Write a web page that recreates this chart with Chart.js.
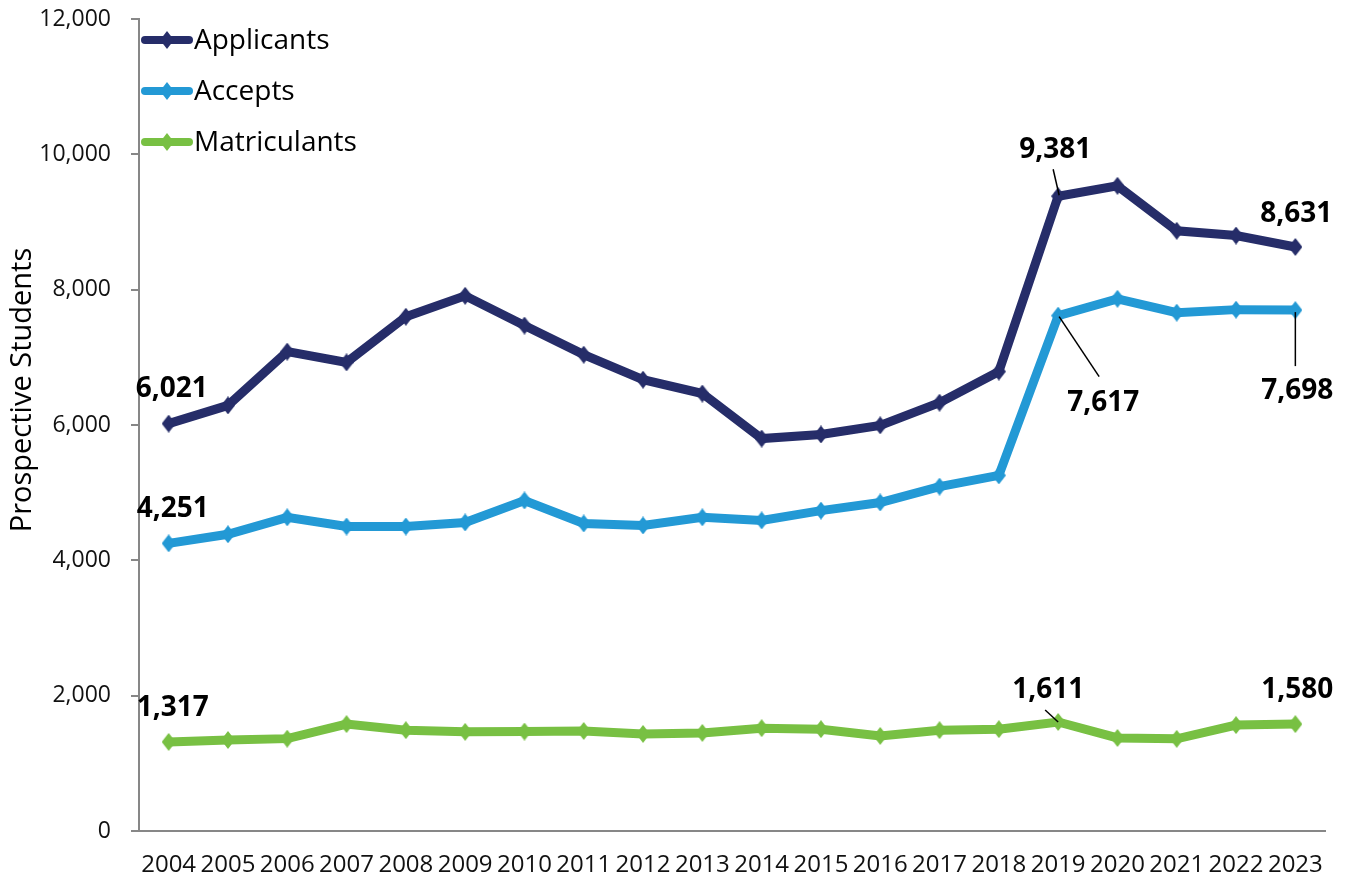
<!DOCTYPE html>
<html>
<head>
<meta charset="utf-8">
<script src="https://cdn.jsdelivr.net/npm/chart.js@4.4.1/dist/chart.umd.min.js"></script>
<style>
  html, body { margin: 0; padding: 0; background: #fff; }
  #wrap { width: 1354px; height: 880px; }
</style>
</head>
<body>
<div id="wrap"><canvas id="chart"></canvas></div>
<script>
// data
var years = ['2004', '2005', '2006', '2007', '2008', '2009', '2010', '2011', '2012', '2013',
             '2014', '2015', '2016', '2017', '2018', '2019', '2020', '2021', '2022', '2023'];
var applicants = [6021, 6290, 7085, 6925, 7600, 7910, 7470, 7040, 6670, 6465,
                  5800, 5860, 5995, 6330, 6790, 9381, 9535, 8870, 8800, 8631];
var accepts = [4251, 4385, 4635, 4500, 4500, 4560, 4885, 4545, 4515, 4635,
               4590, 4735, 4855, 5090, 5255, 7617, 7865, 7660, 7705, 7698];
var matriculants = [1317, 1345, 1365, 1580, 1490, 1465, 1470, 1478, 1435, 1450,
                    1520, 1505, 1405, 1490, 1505, 1611, 1375, 1362, 1565, 1580];
var yTicks = [0, 2000, 4000, 6000, 8000, 10000, 12000];

var seriesNames = ['Applicants', 'Accepts', 'Matriculants'];
var seriesColors = ['#262d69', '#2399d5', '#78c043'];

// which points get a value label: [series, point, dx, dy, leader]
var callouts = [
    [0, 0, 3, -37, null],
    [1, 0, 4, -36, null],
    [2, 0, 4, -36, null],
    [0, 15, -3, -48, [-5, -27, 1, -1]],
    [0, 19, 1, -35, null],
    [1, 15, 45, 85, [1, 1, 41, 61]],
    [1, 19, 2, 79, [0, 2, 0, 56]],
    [2, 15, -10, -34, [-13, -12, 0, 0]],
    [2, 19, 2, -36, null]
];

var FONT = '"Open Sans", "Noto Sans", sans-serif';

// diamond a bit taller than wide, like the Excel marker
function diamond(ctx, x, y, color) {
    ctx.fillStyle = color;
    ctx.beginPath();
    ctx.moveTo(x, y - 9);
    ctx.lineTo(x + 7, y);
    ctx.lineTo(x, y + 9);
    ctx.lineTo(x - 7, y);
    ctx.closePath();
    ctx.fill();
}

function markerImage(color) {
    var c = document.createElement('canvas');
    c.width = 14;
    c.height = 18;
    diamond(c.getContext('2d'), 7, 9, color);
    return c;
}

function makeDataset(i, values) {
    return {
        label: seriesNames[i],
        data: values,
        borderColor: seriesColors[i],
        backgroundColor: seriesColors[i],
        borderWidth: 9,
        pointStyle: markerImage(seriesColors[i]),
        pointRadius: 8,
        pointBorderWidth: 0,
        tension: 0
    };
}

var extras = {
    id: 'extras',
    afterDraw: function (chart) {
        var ctx = chart.ctx;
        ctx.save();

        // y axis title
        ctx.save();
        ctx.translate(23, 390);
        ctx.rotate(-Math.PI / 2);
        ctx.fillStyle = '#000';
        ctx.font = '29px ' + FONT;
        ctx.textAlign = 'center';
        ctx.textBaseline = 'middle';
        ctx.fillText('Prospective Students', 0, 0);
        ctx.restore();

        // legend inside the plot
        var rows = [40, 91, 142];
        for (var i = 0; i < seriesNames.length; i++) {
            var y = rows[i];
            ctx.strokeStyle = seriesColors[i];
            ctx.lineWidth = 8;
            ctx.lineCap = 'round';
            ctx.beginPath();
            ctx.moveTo(145, y);
            ctx.lineTo(189, y);
            ctx.stroke();
            diamond(ctx, 167, y, seriesColors[i]);
            ctx.fillStyle = '#000';
            ctx.font = '28px ' + FONT;
            ctx.textAlign = 'left';
            ctx.textBaseline = 'middle';
            ctx.fillText(seriesNames[i], 194, y + 1);
        }

        // value labels
        ctx.font = 'bold 28px ' + FONT;
        ctx.textAlign = 'center';
        ctx.textBaseline = 'alphabetic';
        callouts.forEach(function (c) {
            var ds = chart.data.datasets[c[0]];
            var pt = chart.getDatasetMeta(c[0]).data[c[1]];
            var px = pt.x, py = pt.y;
            if (c[4]) {
                ctx.strokeStyle = '#000';
                ctx.lineWidth = 1.5;
                ctx.lineCap = 'butt';
                ctx.beginPath();
                ctx.moveTo(px + c[4][0], py + c[4][1]);
                ctx.lineTo(px + c[4][2], py + c[4][3]);
                ctx.stroke();
            }
            ctx.fillStyle = '#000';
            ctx.fillText(ds.data[c[1]].toLocaleString('en-US'), px + c[2], py + c[3] + 10);
        });

        ctx.restore();
    }
};

new Chart(document.getElementById('chart'), {
    type: 'line',
    data: {
        labels: years,
        datasets: [makeDataset(0, applicants), makeDataset(1, accepts), makeDataset(2, matriculants)]
    },
    options: {
        responsive: true,
        maintainAspectRatio: false,
        animation: false,
        layout: { padding: { top: 19, right: 29, left: 0, bottom: 0 } },
        plugins: {
            legend: { display: false },
            tooltip: { enabled: false }
        },
        scales: {
            x: {
                offset: true,
                grid: { display: true, drawOnChartArea: false, drawTicks: false, color: '#878787' },
                border: { display: true, color: '#878787', width: 2 },
                ticks: {
                    color: '#111',
                    font: { family: FONT, size: 24 },
                    padding: 20,
                    maxRotation: 0,
                    autoSkip: false
                },
                afterFit: function (scale) { scale.height = 49; }
            },
            y: {
                min: 0,
                max: 12000,
                afterBuildTicks: function (scale) {
                    scale.ticks = yTicks.map(function (v) { return { value: v }; });
                },
                grid: { display: true, drawOnChartArea: false, drawTicks: true, tickLength: 8, color: '#878787', lineWidth: 2 },
                border: { display: true, color: '#878787', width: 2 },
                ticks: {
                    color: '#111',
                    font: { family: FONT, size: 23 },
                    padding: 20,
                    callback: function (v) { return v.toLocaleString('en-US'); }
                },
                afterFit: function (scale) {
                    scale.width = 139;
                    scale.paddingTop = 0;
                    scale.paddingBottom = 0;
                }
            }
        }
    },
    plugins: [extras]
});
</script>
</body>
</html>
